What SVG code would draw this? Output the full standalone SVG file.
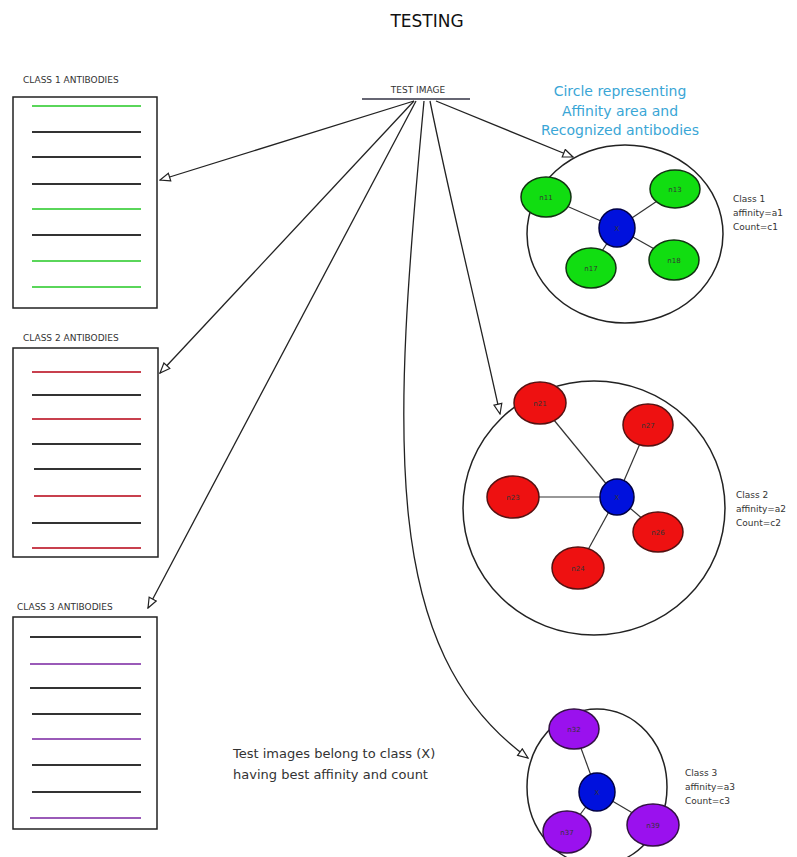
<svg xmlns="http://www.w3.org/2000/svg" width="797" height="857" viewBox="0 0 797 857">
<style>
text{font-family:"DejaVu Sans","Liberation Sans",sans-serif}
.title{font-size:17px;fill:#111}
.lbl{font-size:9px;fill:#333}
.box{fill:#fff;stroke:#222;stroke-width:1.5}
.ln{stroke-width:2}
.g{stroke:#5ad65a}.k{stroke:#333}.r{stroke:#c8404e}.p{stroke:#9a5ab8}
.big{fill:#fff;stroke:#222;stroke-width:1.5}
.edge{stroke:#333;stroke-width:1.2;fill:none}
.conn{stroke:#222;stroke-width:1.3;fill:none;marker-end:url(#oa)}
.gn{fill:#11dd11;stroke:#113311;stroke-width:1.5}
.rn{fill:#ee1111;stroke:#551111;stroke-width:1.5}
.pn{fill:#9a11ee;stroke:#331144;stroke-width:1.5}
.xn{fill:#0011dd;stroke:#000044;stroke-width:1.5}
.nt{font-size:7px;fill:#333;text-anchor:middle}
.info{font-size:9px;fill:#333}
.blue{font-size:14px;fill:#3aa6d6;text-anchor:middle}
.note{font-size:13px;fill:#333}
</style>
<defs>
<marker id="oa" viewBox="0 0 12 10" refX="11" refY="5" markerWidth="12" markerHeight="10" markerUnits="userSpaceOnUse" orient="auto">
<path d="M1,1 L11,5 L1,9 Z" fill="#fff" stroke="#222" stroke-width="1.2"/>
</marker>
</defs>
<rect width="797" height="857" fill="#fff"/>
<text class="title" x="427" y="27" text-anchor="middle">TESTING</text>

<g id="class1-antibodies">
<text class="lbl" x="23" y="83">CLASS 1 ANTIBODIES</text>
<rect class="box" x="13" y="97" width="144" height="211"/>
<line class="ln g" x1="32" y1="106" x2="141" y2="106"/>
<line class="ln k" x1="32" y1="132" x2="141" y2="132"/>
<line class="ln k" x1="32" y1="157" x2="141" y2="157"/>
<line class="ln k" x1="32" y1="184" x2="141" y2="184"/>
<line class="ln g" x1="32" y1="209" x2="141" y2="209"/>
<line class="ln k" x1="32" y1="235" x2="141" y2="235"/>
<line class="ln g" x1="32" y1="261" x2="141" y2="261"/>
<line class="ln g" x1="32" y1="287" x2="141" y2="287"/>
</g>

<g id="class2-antibodies">
<text class="lbl" x="23" y="341">CLASS 2 ANTIBODIES</text>
<rect class="box" x="13" y="348" width="145" height="209"/>
<line class="ln r" x1="32" y1="372" x2="141" y2="372"/>
<line class="ln k" x1="32" y1="395" x2="141" y2="395"/>
<line class="ln r" x1="32" y1="419" x2="141" y2="419"/>
<line class="ln k" x1="32" y1="444" x2="141" y2="444"/>
<line class="ln k" x1="34" y1="469" x2="141" y2="469"/>
<line class="ln r" x1="34" y1="496" x2="141" y2="496"/>
<line class="ln k" x1="32" y1="523" x2="141" y2="523"/>
<line class="ln r" x1="32" y1="548" x2="141" y2="548"/>
</g>

<g id="class3-antibodies">
<text class="lbl" x="17" y="610">CLASS 3 ANTIBODIES</text>
<rect class="box" x="13" y="617" width="144" height="212"/>
<line class="ln k" x1="30" y1="637" x2="141" y2="637"/>
<line class="ln p" x1="30" y1="664" x2="141" y2="664"/>
<line class="ln k" x1="30" y1="688" x2="141" y2="688"/>
<line class="ln k" x1="32" y1="714" x2="141" y2="714"/>
<line class="ln p" x1="32" y1="739" x2="141" y2="739"/>
<line class="ln k" x1="32" y1="765" x2="141" y2="765"/>
<line class="ln k" x1="32" y1="792" x2="141" y2="792"/>
<line class="ln p" x1="30" y1="818" x2="141" y2="818"/>
</g>

<g id="test-image">
<text class="lbl" x="418" y="93" text-anchor="middle">TEST IMAGE</text>
<line x1="362" y1="99" x2="470" y2="99" stroke="#334" stroke-width="1.6"/>
</g>

<g id="legend-text">
<text class="blue" x="620" y="96">Circle representing</text>
<text class="blue" x="620" y="116">Affinity area and</text>
<text class="blue" x="620" y="135">Recognized antibodies</text>
</g>

<g id="class1-circle">
<ellipse class="big" cx="625" cy="234" rx="98" ry="89"/>
<line class="edge" x1="546" y1="197" x2="617" y2="228"/>
<line class="edge" x1="675" y1="189" x2="617" y2="228"/>
<line class="edge" x1="591" y1="268" x2="617" y2="228"/>
<line class="edge" x1="674" y1="260" x2="617" y2="228"/>
<ellipse class="gn" cx="546" cy="197" rx="25" ry="20"/><text class="nt" x="546" y="200">n11</text>
<ellipse class="gn" cx="675" cy="189" rx="25" ry="19"/><text class="nt" x="675" y="192">n13</text>
<ellipse class="gn" cx="591" cy="268" rx="25" ry="20"/><text class="nt" x="591" y="271">n17</text>
<ellipse class="gn" cx="674" cy="260" rx="25" ry="20"/><text class="nt" x="674" y="263">n18</text>
<ellipse class="xn" cx="617" cy="228" rx="18" ry="19"/><text class="nt" x="617" y="231">X</text>
<text class="info" x="733" y="202">Class 1</text>
<text class="info" x="733" y="216">affinity=a1</text>
<text class="info" x="733" y="230">Count=c1</text>
</g>

<g id="class2-circle">
<ellipse class="big" cx="594" cy="508" rx="131" ry="127"/>
<line class="edge" x1="540" y1="403" x2="617" y2="497"/>
<line class="edge" x1="648" y1="425" x2="617" y2="497"/>
<line class="edge" x1="513" y1="497" x2="617" y2="497"/>
<line class="edge" x1="658" y1="532" x2="617" y2="497"/>
<line class="edge" x1="578" y1="568" x2="617" y2="497"/>
<ellipse class="rn" cx="540" cy="403" rx="26" ry="21"/><text class="nt" x="540" y="406">n21</text>
<ellipse class="rn" cx="648" cy="425" rx="25" ry="21"/><text class="nt" x="648" y="428">n27</text>
<ellipse class="rn" cx="513" cy="497" rx="26" ry="21"/><text class="nt" x="513" y="500">n23</text>
<ellipse class="rn" cx="658" cy="532" rx="25" ry="20"/><text class="nt" x="658" y="535">n26</text>
<ellipse class="rn" cx="578" cy="568" rx="26" ry="21"/><text class="nt" x="578" y="571">n24</text>
<ellipse class="xn" cx="617" cy="497" rx="17" ry="18"/><text class="nt" x="617" y="500">X</text>
<text class="info" x="736" y="498">Class 2</text>
<text class="info" x="736" y="512">affinity=a2</text>
<text class="info" x="736" y="526">Count=c2</text>
</g>

<g id="class3-circle">
<ellipse class="big" cx="597" cy="787" rx="70" ry="78"/>
<line class="edge" x1="574" y1="729" x2="597" y2="792"/>
<line class="edge" x1="567" y1="832" x2="597" y2="792"/>
<line class="edge" x1="653" y1="825" x2="597" y2="792"/>
<ellipse class="pn" cx="574" cy="729" rx="25" ry="20"/><text class="nt" x="574" y="732">n32</text>
<ellipse class="pn" cx="567" cy="832" rx="24" ry="21"/><text class="nt" x="567" y="835">n37</text>
<ellipse class="pn" cx="653" cy="825" rx="26" ry="21"/><text class="nt" x="653" y="828">n39</text>
<ellipse class="xn" cx="597" cy="792" rx="18" ry="19"/><text class="nt" x="597" y="795">X</text>
<text class="info" x="685" y="776">Class 3</text>
<text class="info" x="685" y="790">affinity=a3</text>
<text class="info" x="685" y="804">Count=c3</text>
</g>

<g id="note">
<text class="note" x="233" y="758">Test images belong to class (X)</text>
<text class="note" x="233" y="779">having best affinity and count</text>
</g>

<g id="connectors">
<path class="conn" d="M414,101 L160,180"/>
<path class="conn" d="M414,101 L160,373"/>
<path class="conn" d="M416,101 L148,608"/>
<path class="conn" d="M424,101 C392,440 380,650 528,758"/>
<path class="conn" d="M430,101 C450,200 475,300 500,414"/>
<path class="conn" d="M436,101 L573,157"/>
</g>
</svg>
